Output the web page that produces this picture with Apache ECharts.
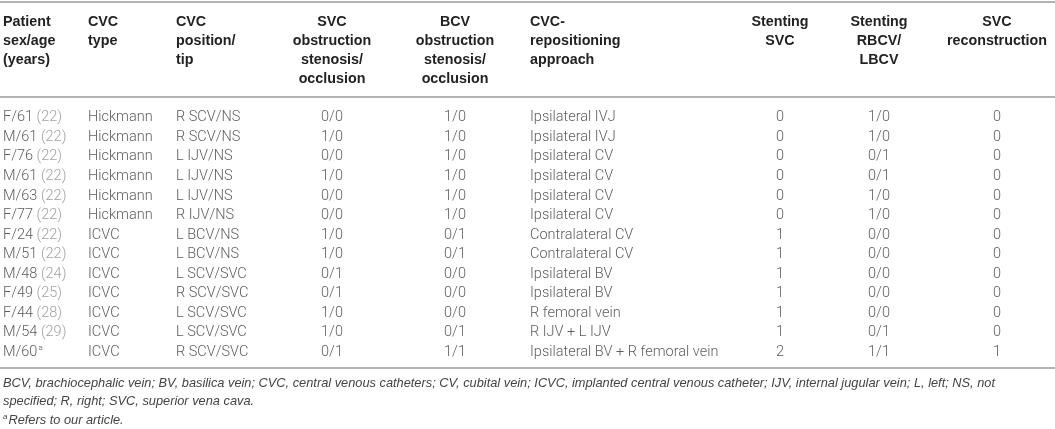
<!DOCTYPE html>
<html><head><meta charset="utf-8">
<script src="https://cdn.jsdelivr.net/npm/echarts@6/dist/echarts.min.js"></script>
<style>html,body{margin:0;padding:0;background:#fff}#c{width:1055px;height:429px}</style>
</head><body><div id="c"></div>
<script>
// ---- data ----
var patients = ["F/61","M/61","F/76","M/61","M/63","F/77","F/24","M/51","M/48","F/49","F/44","M/54","M/60"];
var refs = ["22","22","22","22","22","22","22","22","24","25","28","29",""];
var notes = ["","","","","","","","","","","","","a"];
var cvcType = ["Hickmann","Hickmann","Hickmann","Hickmann","Hickmann","Hickmann","ICVC","ICVC","ICVC","ICVC","ICVC","ICVC","ICVC"];
var cvcPosition = ["R SCV/NS","R SCV/NS","L IJV/NS","L IJV/NS","L IJV/NS","R IJV/NS","L BCV/NS","L BCV/NS","L SCV/SVC","R SCV/SVC","L SCV/SVC","L SCV/SVC","R SCV/SVC"];
var svcObstruction = ["0/0","1/0","0/0","1/0","0/0","0/0","1/0","1/0","0/1","0/1","1/0","1/0","0/1"];
var bcvObstruction = ["1/0","1/0","1/0","1/0","1/0","1/0","0/1","0/1","0/0","0/0","0/0","0/1","1/1"];
var approach = ["Ipsilateral IVJ","Ipsilateral IVJ","Ipsilateral CV","Ipsilateral CV","Ipsilateral CV","Ipsilateral CV","Contralateral CV","Contralateral CV","Ipsilateral BV","Ipsilateral BV","R femoral vein","R IJV + L IJV","Ipsilateral BV + R femoral vein"];
var stentingSVC = [0,0,0,0,0,0,1,1,1,1,1,1,2];
var stentingBCV = ["1/0","1/0","0/1","0/1","1/0","1/0","0/0","0/0","0/0","0/0","0/0","0/1","1/1"];
var svcReconstruction = [0,0,0,0,0,0,0,0,0,0,0,0,1];
var headers = ["Patient\nsex/age\n(years)","CVC\ntype","CVC\nposition/\ntip","SVC\nobstruction\nstenosis/\nocclusion","BCV\nobstruction\nstenosis/\nocclusion","CVC-\nrepositioning\napproach","Stenting\nSVC","Stenting\nRBCV/\nLBCV","SVC\nreconstruction"];
var footnoteLines = [
 "BCV, brachiocephalic vein; BV, basilica vein; CVC, central venous catheters; CV, cubital vein; ICVC, implanted central venous catheter; IJV, internal jugular vein; L, left; NS, not",
 "specified; R, right; SVC, superior vena cava."
];
var footnoteA = "Refers to our article.";

// ---- layout (not data) ----
var colX = [3, 88, 176, 332, 455, 530, 780, 879, 997];
var colAlign = ['left','left','left','center','center','left','center','center','center'];
var W = 1055;

var patientLabels = patients.map(function(p, i){
  if (refs[i]) return p + ' {ref|(' + refs[i] + ')}';
  return p + '{sup|' + notes[i] + '}';
});
var columns = [patientLabels, cvcType, cvcPosition, svcObstruction, bcvObstruction, approach,
  stentingSVC.map(String), stentingBCV, svcReconstruction.map(String)];
var rowCats = patients.map(function(p, i){ return 'r' + i; });

var DATA_FONT = 'Roboto';
var series = columns.map(function(col, c){
  return {
    type: 'scatter', symbolSize: 0, silent: true, animation: false,
    data: col.map(function(v, i){ return {value: [colX[c], rowCats[i]], name: v}; }),
    label: {
      show: true, position: 'inside', align: colAlign[c], verticalAlign: 'middle',
      formatter: function(p){ return p.name; },
      fontFamily: DATA_FONT, fontWeight: 300, fontSize: 14.5, color: '#333',
      rich: {
        ref: {fontFamily: DATA_FONT, fontWeight: 300, fontSize: 14.5, color: '#8a8a8a'},
        sup: {fontFamily: DATA_FONT, fontWeight: 300, fontSize: 8, color: '#333', verticalAlign: 'top', padding: [0,0,8,1]}
      }
    }
  };
});

var graphics = [];
function rule(y){
  graphics.push({type:'line', shape:{x1:0, y1:y, x2:W, y2:y}, style:{stroke:'#b4b4b4', lineWidth:2}, silent:true});
}
rule(2); rule(97); rule(368);
headers.forEach(function(h, c){
  graphics.push({type:'text', x: colX[c], y: 13, silent:true,
    style:{text:h, fontFamily:'Liberation Sans', fontWeight:'bold', fontSize:14.3, lineHeight:19,
      fill:'#222', align: colAlign[c], verticalAlign:'top'}});
});
footnoteLines.forEach(function(t, i){
  graphics.push({type:'text', x:3, y:383 + i*18.5, silent:true,
    style:{text:t, fontFamily:'Liberation Sans', fontStyle:'italic', fontSize:12.8, fill:'#444', verticalAlign:'middle'}});
});
graphics.push({type:'text', x:3, y:420, silent:true,
  style:{text:'{s|a}' + footnoteA, fontFamily:'Liberation Sans', fontStyle:'italic', fontSize:12.8, fill:'#444', verticalAlign:'middle',
    rich:{s:{fontFamily:'Liberation Sans', fontStyle:'italic', fontSize:8, fill:'#444', verticalAlign:'top', padding:[0,1,6,0]}}}});

var chart = echarts.init(document.getElementById('c'), null, {renderer:'canvas'});
chart.setOption({
  animation: false,
  grid: {left: 0, right: 0, top: 108, height: 254},
  xAxis: {type:'value', min:0, max:W, show:false},
  yAxis: {type:'category', data: rowCats, inverse:true, show:false},
  series: series,
  graphic: graphics
});
</script></body></html>
